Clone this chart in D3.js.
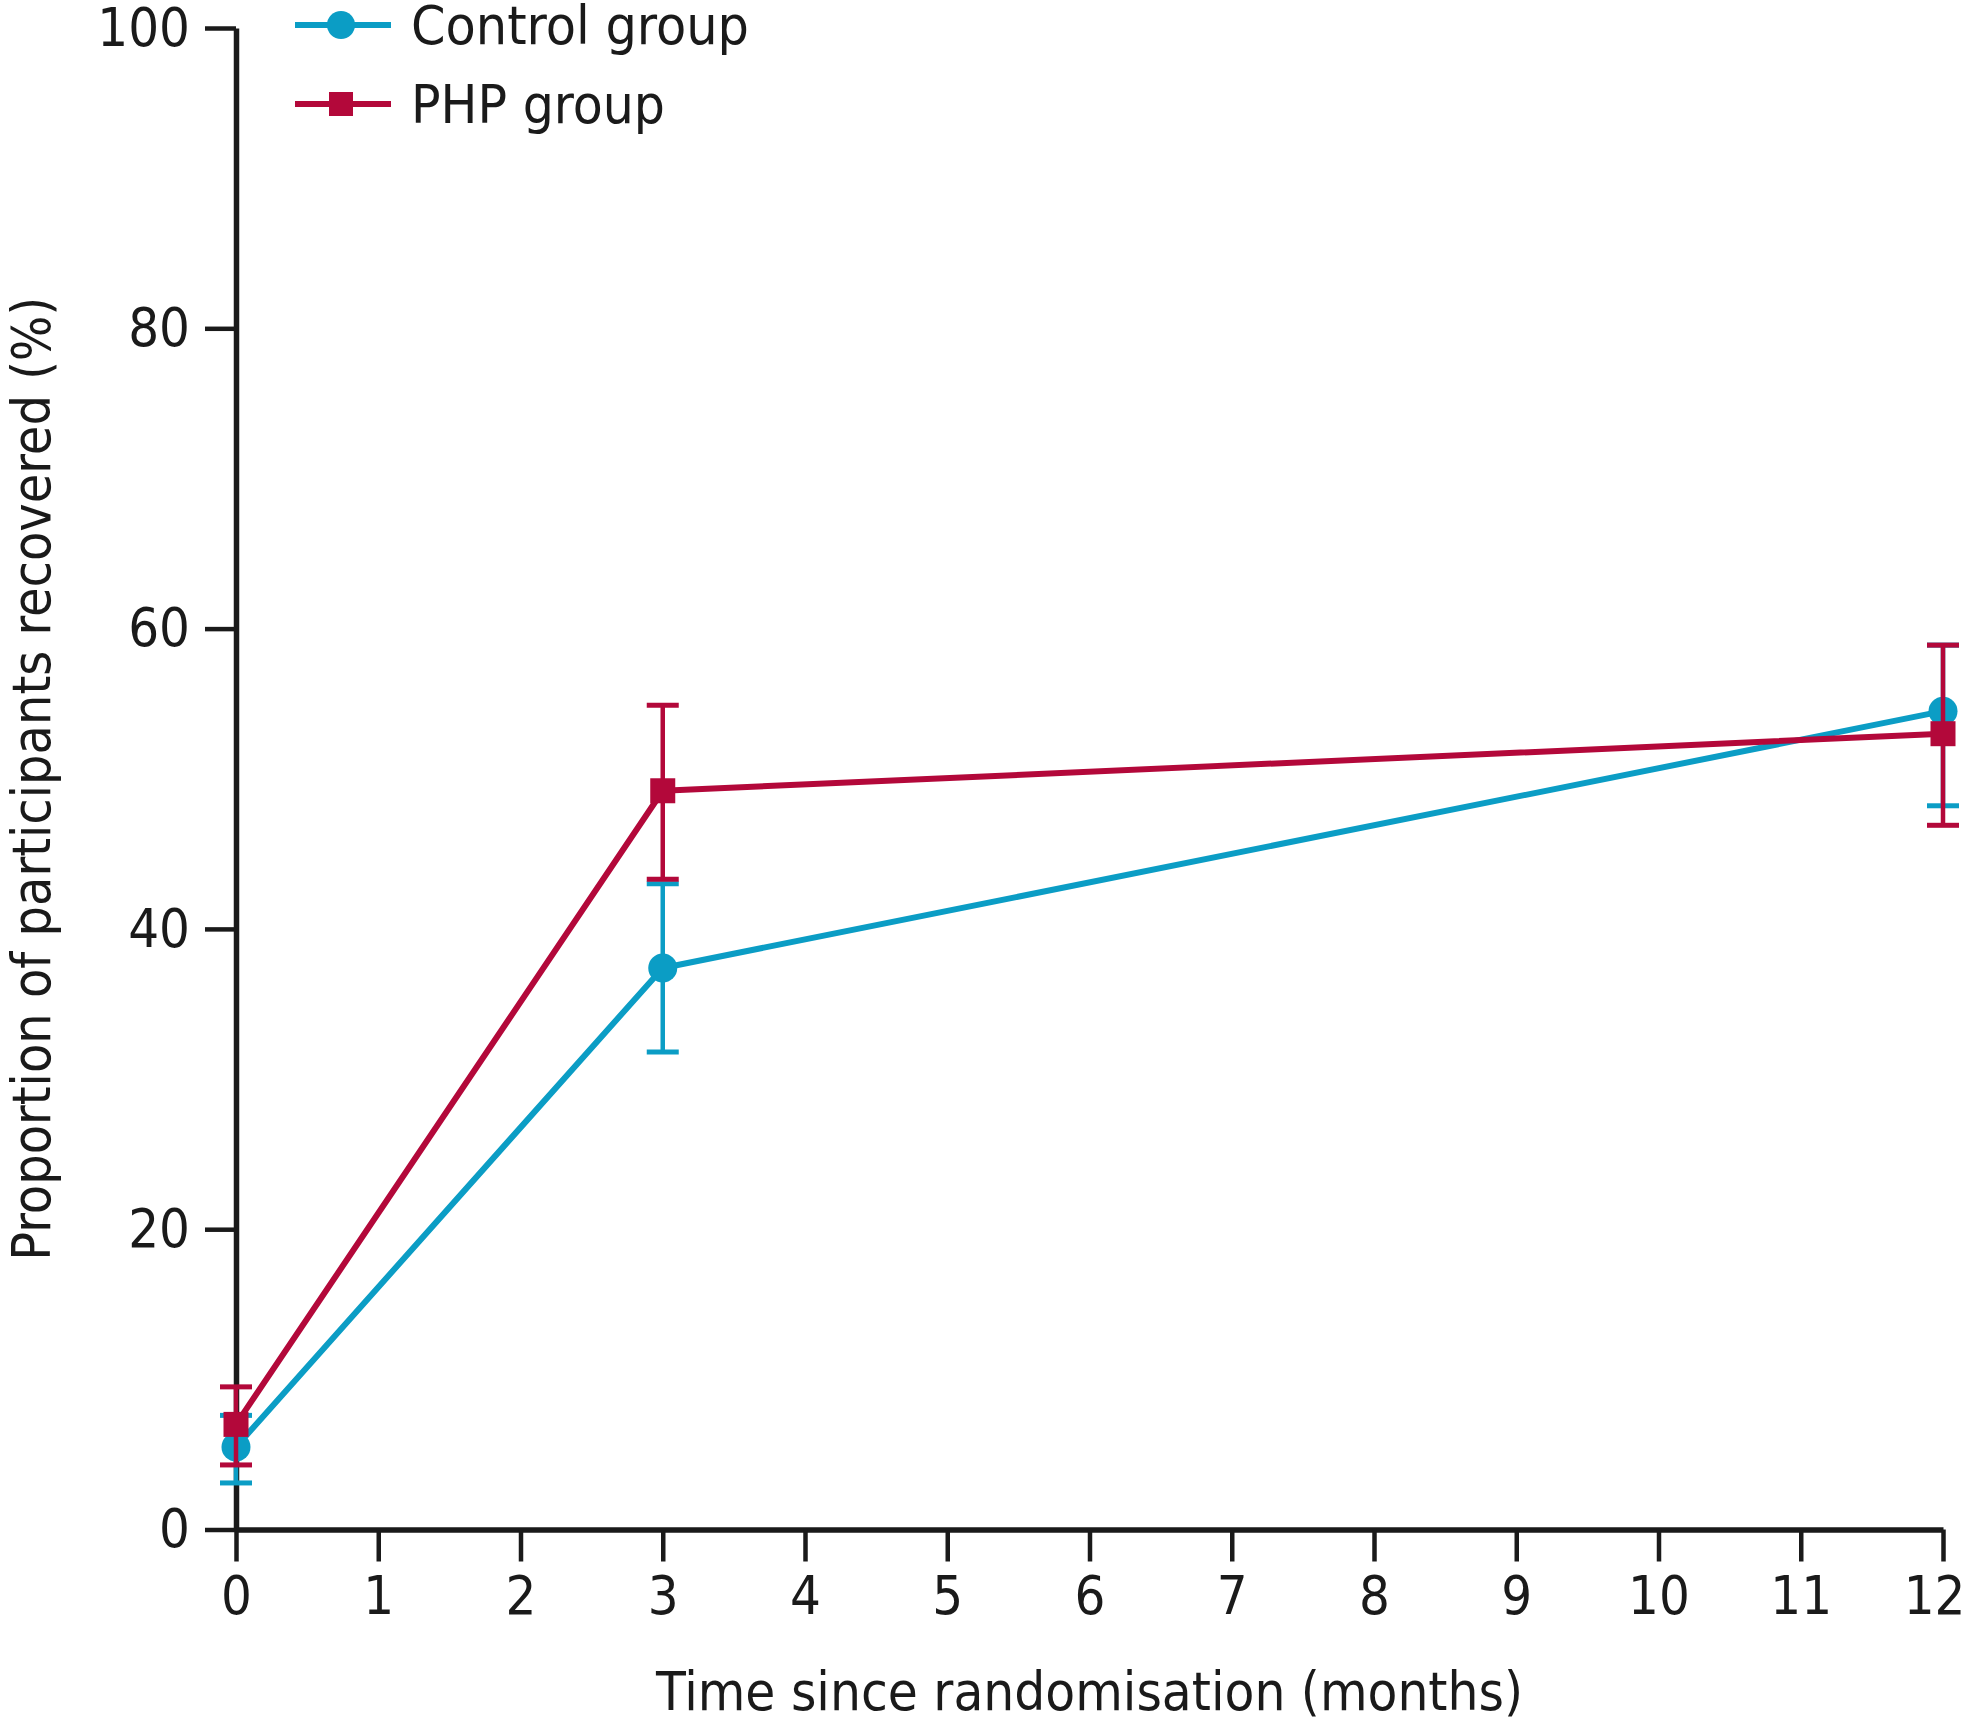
<!DOCTYPE html>
<html><head><meta charset="utf-8">
<script src="https://cdn.jsdelivr.net/npm/d3@7"></script>
<style>
html,body{margin:0;padding:0;background:#fff;}
svg text{font-family:"Liberation Sans Narrow","DejaVu Sans Condensed","Open Sans",sans-serif;fill:#1a1a1a;}
</style></head>
<body>
<svg id="chart" width="1967" height="1725"></svg>
<script>
const months = [0, 3, 12];
const controlMean = [5.5, 37.4, 54.5];
const controlLow  = [3.1, 31.8, 48.2];
const controlHigh = [7.6, 43.0, 58.9];
const phpMean = [7.0, 49.2, 53.0];
const phpLow  = [4.3, 43.3, 46.9];
const phpHigh = [9.5, 54.9, 58.9];
const xTicks = [0,1,2,3,4,5,6,7,8,9,10,11,12];
const yTicks = [0,20,40,60,80,100];
const seriesNames = ["Control group", "PHP group"];
const colors = ["#0b9dc5", "#b3083a"];

const svg = d3.select("#chart");
const x = d3.scaleLinear().domain([0,12]).range([236, 1943]);
const y = d3.scaleLinear().domain([0,100]).range([1529.5, 28]);
const fs = 54;

// axes
const xAxis = svg.append("g").attr("transform", `translate(0,${y(0)})`)
  .call(d3.axisBottom(x).tickValues(xTicks).tickSize(32).tickSizeOuter(0).tickPadding(14).tickFormat(d3.format("d")));
xAxis.select(".domain").attr("stroke", "#1a1a1a").attr("stroke-width", 5.5);
xAxis.selectAll(".tick line").attr("stroke", "#1a1a1a").attr("stroke-width", 4.5);
xAxis.selectAll(".tick text").attr("font-size", fs).attr("fill", "#1a1a1a");
// keep the last label inside the page edge
xAxis.selectAll(".tick text").filter(d => d === 12).attr("text-anchor", "end").attr("x", 1965 - x(12));

const yAxis = svg.append("g").attr("transform", `translate(${x(0)},0)`)
  .call(d3.axisLeft(y).tickValues(yTicks).tickSize(31).tickSizeOuter(0).tickPadding(15));
yAxis.select(".domain").attr("stroke", "#1a1a1a").attr("stroke-width", 5.5);
yAxis.selectAll(".tick line").attr("stroke", "#1a1a1a").attr("stroke-width", 4.5);
yAxis.selectAll(".tick text").attr("font-size", fs).attr("fill", "#1a1a1a");

// axis titles
svg.append("text").attr("x", (x(0)+x(12))/2).attr("y", 1710)
  .attr("text-anchor", "middle").attr("font-size", fs)
  .attr("textLength", 867).attr("lengthAdjust", "spacingAndGlyphs")
  .text("Time since randomisation (months)");
svg.append("text").attr("transform", `translate(50,${(y(0)+y(100))/2}) rotate(-90)`)
  .attr("text-anchor", "middle").attr("font-size", fs)
  .attr("textLength", 964).attr("lengthAdjust", "spacingAndGlyphs")
  .text("Proportion of participants recovered (%)");

const series = [
  {name: seriesNames[0], mean: controlMean, lo: controlLow, hi: controlHigh, color: colors[0], shape: "circle"},
  {name: seriesNames[1], mean: phpMean, lo: phpLow, hi: phpHigh, color: colors[1], shape: "square"}
];

const line = d3.line().x((d,i) => x(months[i])).y(d => y(d));
const capW = 16;

series.forEach(s => {
  const g = svg.append("g");
  g.append("path").attr("d", line(s.mean)).attr("fill", "none")
    .attr("stroke", s.color).attr("stroke-width", 6).attr("stroke-linejoin", "round");
  months.forEach((m, i) => {
    const cx = x(m);
    g.append("line").attr("x1", cx).attr("x2", cx).attr("y1", y(s.lo[i])).attr("y2", y(s.hi[i]))
      .attr("stroke", s.color).attr("stroke-width", 4.5);
    [s.lo[i], s.hi[i]].forEach(v => {
      g.append("line").attr("x1", cx - capW).attr("x2", cx + capW).attr("y1", y(v)).attr("y2", y(v))
        .attr("stroke", s.color).attr("stroke-width", 5);
    });
    if (s.shape === "circle") {
      g.append("circle").attr("cx", cx).attr("cy", y(s.mean[i])).attr("r", 14.5).attr("fill", s.color);
    } else {
      g.append("rect").attr("x", cx - 12.5).attr("y", y(s.mean[i]) - 12.5).attr("width", 25).attr("height", 25).attr("fill", s.color);
    }
  });
});

// legend
const legY = [25, 104];
const legTextW = [338, 254];
series.forEach((s, i) => {
  const g = svg.append("g").attr("transform", `translate(0,${legY[i]})`);
  g.append("line").attr("x1", 295).attr("x2", 391).attr("y1", 0).attr("y2", 0)
    .attr("stroke", s.color).attr("stroke-width", 6);
  if (s.shape === "circle") g.append("circle").attr("cx", 341).attr("cy", 0).attr("r", 14).attr("fill", s.color);
  else g.append("rect").attr("x", 341 - 12).attr("y", -12).attr("width", 24).attr("height", 24).attr("fill", s.color);
  g.append("text").attr("x", 411).attr("y", 0).attr("dy", "0.35em").attr("font-size", fs)
    .attr("textLength", legTextW[i]).attr("lengthAdjust", "spacingAndGlyphs")
    .text(s.name);
});
</script>
</body></html>
